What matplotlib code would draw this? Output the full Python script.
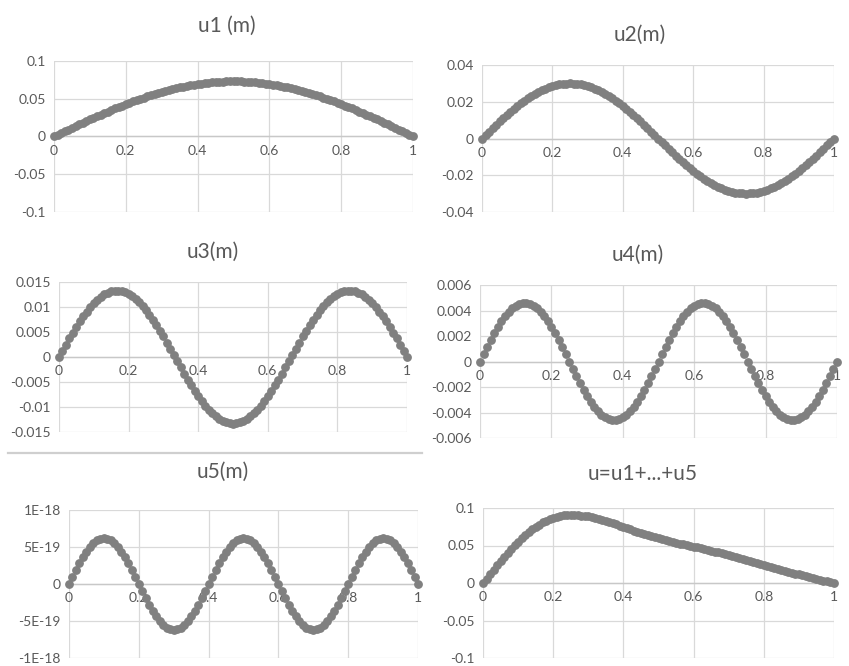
import numpy as np
import matplotlib
matplotlib.use('Agg')
import matplotlib.pyplot as plt
from matplotlib.lines import Line2D

plt.rcParams['font.family'] = ['Lato', 'DejaVu Sans']

# x positions 0, 0.01, ..., 1
x = np.round(np.arange(101) * 0.01, 2)

u1 = [0, .0023, .0046, .0069, .0091, .0114, .0137, .0159, .0182, .0204,
      .0226, .0247, .0269, .0290, .0311, .0331, .0352, .0372, .0391, .0410,
      .0429, .0447, .0465, .0483, .0500, .0516, .0532, .0548, .0562, .0577,
      .0591, .0604, .0616, .0628, .0640, .0650, .0661, .0670, .0679, .0687,
      .0694, .0701, .0707, .0712, .0717, .0721, .0724, .0727, .0729, .0730,
      .0730,
      .0730, .0729, .0727, .0724, .0721, .0717, .0712, .0707, .0701, .0694,
      .0687, .0679, .0670, .0661, .0650, .0640, .0628, .0616, .0604, .0591,
      .0577, .0562, .0548, .0532, .0516, .0500, .0483, .0465, .0447, .0429,
      .0410, .0391, .0372, .0352, .0331, .0311, .0290, .0269, .0247, .0226,
      .0204, .0182, .0159, .0137, .0114, .0091, .0069, .0046, .0023, 0]

u2 = [0, .0019, .0038, .0056, .0075, .0093, .0110, .0128, .0145, .0161,
      .0176, .0191, .0205, .0219, .0231, .0243, .0253, .0263, .0271, .0279,
      .0285, .0291, .0295, .0298, .0299, .0300, .0299, .0298, .0295, .0291,
      .0285, .0279, .0271, .0263, .0253, .0243, .0231, .0219, .0205, .0191,
      .0176, .0161, .0145, .0128, .0110, .0093, .0075, .0056, .0038, .0019,
      0,
      -.0019, -.0038, -.0056, -.0075, -.0093, -.0110, -.0128, -.0145, -.0161, -.0176,
      -.0191, -.0205, -.0219, -.0231, -.0243, -.0253, -.0263, -.0271, -.0279, -.0285,
      -.0291, -.0295, -.0298, -.0299, -.0300, -.0299, -.0298, -.0295, -.0291, -.0285,
      -.0279, -.0271, -.0263, -.0253, -.0243, -.0231, -.0219, -.0205, -.0191, -.0176,
      -.0161, -.0145, -.0128, -.0110, -.0093, -.0075, -.0056, -.0038, -.0019, 0]

u3 = [0, .00125, .00249, .00371, .00490, .00604, .00713, .00815, .00910, .00998,
      .01076, .01145, .01203, .01251, .01288, .01314, .01327, .01329, .01319, .01298,
      .01265, .01221, .01165, .01100, .01025, .00940, .00848, .00748, .00641, .00528,
      .00411, .00290, .00167, .00042, -.00084, -.00208, -.00331, -.00450, -.00566, -.00677,
      -.00782, -.00880, -.00970, -.01051, -.01123, -.01185, -.01237, -.01277, -.01306, -.01324,
      -.01330,
      -.01324, -.01306, -.01277, -.01237, -.01185, -.01123, -.01051, -.00970, -.00880, -.00782,
      -.00677, -.00566, -.00450, -.00331, -.00208, -.00084, .00042, .00167, .00290, .00411,
      .00528, .00641, .00748, .00848, .00940, .01025, .01100, .01165, .01221, .01265,
      .01298, .01319, .01329, .01327, .01314, .01288, .01251, .01203, .01145, .01076,
      .00998, .00910, .00815, .00713, .00604, .00490, .00371, .00249, .00125, 0]

u4 = [0, .00058, .00114, .00169, .00222, .00270, .00315, .00354, .00388, .00416,
      .00438, .00452, .00459, .00459, .00452, .00438, .00416, .00388, .00354, .00315,
      .00270, .00222, .00169, .00114, .00058, 0,
      -.00058, -.00114, -.00169, -.00222, -.00270, -.00315, -.00354, -.00388, -.00416,
      -.00438, -.00452, -.00459, -.00459, -.00452, -.00438, -.00416, -.00388, -.00354, -.00315,
      -.00270, -.00222, -.00169, -.00114, -.00058, 0,
      .00058, .00114, .00169, .00222, .00270, .00315, .00354, .00388, .00416,
      .00438, .00452, .00459, .00459, .00452, .00438, .00416, .00388, .00354, .00315,
      .00270, .00222, .00169, .00114, .00058, 0,
      -.00058, -.00114, -.00169, -.00222, -.00270, -.00315, -.00354, -.00388, -.00416,
      -.00438, -.00452, -.00459, -.00459, -.00452, -.00438, -.00416, -.00388, -.00354, -.00315,
      -.00270, -.00222, -.00169, -.00114, -.00058, 0]

# u5 in units of 1e-19
u5_e19 = [0, 0.97, 1.92, 2.81, 3.64, 4.38, 5.02, 5.52, 5.90, 6.12, 6.20,
          6.12, 5.90, 5.52, 5.02, 4.38, 3.64, 2.81, 1.92, 0.97, 0,
          -0.97, -1.92, -2.81, -3.64, -4.38, -5.02, -5.52, -5.90, -6.12, -6.20,
          -6.12, -5.90, -5.52, -5.02, -4.38, -3.64, -2.81, -1.92, -0.97, 0,
          0.97, 1.92, 2.81, 3.64, 4.38, 5.02, 5.52, 5.90, 6.12, 6.20,
          6.12, 5.90, 5.52, 5.02, 4.38, 3.64, 2.81, 1.92, 0.97, 0,
          -0.97, -1.92, -2.81, -3.64, -4.38, -5.02, -5.52, -5.90, -6.12, -6.20,
          -6.12, -5.90, -5.52, -5.02, -4.38, -3.64, -2.81, -1.92, -0.97, 0,
          0.97, 1.92, 2.81, 3.64, 4.38, 5.02, 5.52, 5.90, 6.12, 6.20,
          6.12, 5.90, 5.52, 5.02, 4.38, 3.64, 2.81, 1.92, 0.97, 0]
u5 = np.array(u5_e19) * 1e-19

u_sum = [0, .0060, .0120, .0179, .0237, .0294, .0350, .0404, .0457, .0506,
         .0553, .0598, .0640, .0680, .0716, .0749, .0779, .0807, .0829, .0850,
         .0868, .0882, .0893, .0902, .0906, .0910, .0910, .0909, .0899, .0889,
         .0889, .0881, .0868, .0856, .0843, .0828, .0814, .0798, .0782, .0765,
         .0748, .0731, .0716, .0700, .0683, .0669, .0653, .0638, .0625, .0611,
         .0597,
         .0584, .0572, .0560, .0548, .0537, .0526, .0514, .0504, .0494, .0484,
         .0474, .0463, .0452, .0441, .0428, .0419, .0408, .0397, .0386, .0374,
         .0361, .0348, .0336, .0324, .0310, .0298, .0284, .0270, .0256, .0244,
         .0229, .0217, .0203, .0190, .0176, .0164, .0150, .0138, .0125, .0114,
         .0101, .0089, .0077, .0067, .0054, .0042, .0033, .0022, .0011, 0]

titles = ['u1 (m)', 'u2(m)', 'u3(m)', 'u4(m)', 'u5(m)', 'u=u1+...+u5']
series = [u1, u2, u3, u4, u5, u_sum]

xticks = [0, 0.2, 0.4, 0.6, 0.8, 1]
xtick_labels = ['0', '0.2', '0.4', '0.6', '0.8', '1']

yticks = [
    [-0.1, -0.05, 0, 0.05, 0.1],
    [-0.04, -0.02, 0, 0.02, 0.04],
    [-0.015, -0.01, -0.005, 0, 0.005, 0.01, 0.015],
    [-0.006, -0.004, -0.002, 0, 0.002, 0.004, 0.006],
    [-1e-18, -5e-19, 0, 5e-19, 1e-18],
    [-0.1, -0.05, 0, 0.05, 0.1],
]
ytick_labels = [
    ['-0.1', '-0.05', '0', '0.05', '0.1'],
    ['-0.04', '-0.02', '0', '0.02', '0.04'],
    ['-0.015', '-0.01', '-0.005', '0', '0.005', '0.01', '0.015'],
    ['-0.006', '-0.004', '-0.002', '0', '0.002', '0.004', '0.006'],
    ['-1E-18', '-5E-19', '0', '5E-19', '1E-18'],
    ['-0.1', '-0.05', '0', '0.05', '0.1'],
]

# plot areas in pixels: left, right, top, bottom ; title centre (x, y)
W, H = 849, 666
boxes = [(54, 413, 61, 212), (482, 834, 65, 212),
         (59, 407, 282, 432), (480, 837, 285, 438),
         (69, 418, 510, 658), (483, 834, 508, 658)]
title_pos = [(227, 26), (640, 35), (213, 252), (638, 255), (223, 472), (643, 474)]

grid_c = '#d9d9d9'
txt_c = '#595959'
mark_c = '#808080'

fig = plt.figure(figsize=(W / 100, H / 100), dpi=100)

for i in range(6):
    l, r, t, b = boxes[i]
    ax = fig.add_axes([l / W, 1 - b / H, (r - l) / W, (b - t) / H])
    ax.plot(x, series[i], linestyle='none', marker='o', markersize=5.3,
            color=mark_c, clip_on=False, zorder=3)
    ax.set_xlim(0, 1)
    ax.set_ylim(yticks[i][0], yticks[i][-1])
    ax.set_xticks(xticks)
    ax.set_xticklabels(xtick_labels)
    ax.set_yticks(yticks[i])
    ax.set_yticklabels(ytick_labels[i])
    ax.grid(True, color=grid_c, linewidth=0.9)
    ax.set_axisbelow(True)
    for s in ['top', 'right', 'left']:
        ax.spines[s].set_visible(False)
    ax.spines['bottom'].set_position(('data', 0))
    ax.spines['bottom'].set_color('#c8c8c8')
    ax.spines['bottom'].set_linewidth(1.0)
    ax.tick_params(axis='both', length=0, labelcolor=txt_c, labelsize=10)
    ax.tick_params(axis='x', pad=6)
    ax.tick_params(axis='y', pad=6)
    tx, ty = title_pos[i]
    fig.text(tx / W, 1 - ty / H, titles[i], ha='center', va='center',
             fontsize=15, color=txt_c)

# separator line between middle and bottom left charts
fig.add_artist(Line2D([8 / W, 422 / W], [1 - 453 / H, 1 - 453 / H],
                      color='#cfcfcf', linewidth=1.6))

fig.savefig('out.png', dpi=100, facecolor='white')
